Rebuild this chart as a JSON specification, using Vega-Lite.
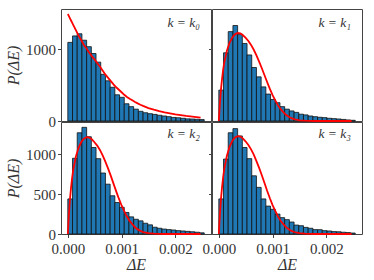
{
  "$schema": "https://vega.github.io/schema/vega-lite/v6.json",
  "background": "white",
  "padding": {"left": 5, "top": 8, "right": 9, "bottom": 5},
  "bounds": "flush",
  "spacing": 1,
  "columns": 2,
  "datasets": {
    "bars": [
      {"b0": 0, "b1": 0.0000875, "h0": 1095, "h1": 430, "h2": 440, "h3": 440},
      {"b0": 0.0000875, "b1": 0.000175, "h0": 1185, "h1": 950, "h2": 950, "h3": 940},
      {"b0": 0.000175, "b1": 0.0002625, "h0": 1215, "h1": 1245, "h2": 1270, "h3": 1270},
      {"b0": 0.0002625, "b1": 0.00035, "h0": 1125, "h1": 1330, "h2": 1338, "h3": 1322},
      {"b0": 0.00035, "b1": 0.0004375, "h0": 1035, "h1": 1210, "h2": 1220, "h3": 1230},
      {"b0": 0.0004375, "b1": 0.000525, "h0": 940, "h1": 1080, "h2": 1085, "h3": 1085},
      {"b0": 0.000525, "b1": 0.0006125, "h0": 820, "h1": 920, "h2": 945, "h3": 945},
      {"b0": 0.0006125, "b1": 0.0007, "h0": 650, "h1": 745, "h2": 765, "h3": 730},
      {"b0": 0.0007, "b1": 0.0007875, "h0": 560, "h1": 615, "h2": 625, "h3": 585},
      {"b0": 0.0007875, "b1": 0.000875, "h0": 470, "h1": 475, "h2": 480, "h3": 440},
      {"b0": 0.000875, "b1": 0.0009625, "h0": 365, "h1": 375, "h2": 395, "h3": 350},
      {"b0": 0.0009625, "b1": 0.00105, "h0": 330, "h1": 300, "h2": 335, "h3": 310},
      {"b0": 0.00105, "b1": 0.0011375, "h0": 240, "h1": 255, "h2": 270, "h3": 250},
      {"b0": 0.0011375, "b1": 0.001225, "h0": 200, "h1": 200, "h2": 215, "h3": 205},
      {"b0": 0.001225, "b1": 0.0013125, "h0": 165, "h1": 165, "h2": 185, "h3": 180},
      {"b0": 0.0013125, "b1": 0.0014, "h0": 135, "h1": 140, "h2": 165, "h3": 150},
      {"b0": 0.0014, "b1": 0.0014875, "h0": 115, "h1": 120, "h2": 135, "h3": 112},
      {"b0": 0.0014875, "b1": 0.001575, "h0": 102, "h1": 95, "h2": 115, "h3": 104},
      {"b0": 0.001575, "b1": 0.0016625, "h0": 92, "h1": 85, "h2": 85, "h3": 83},
      {"b0": 0.0016625, "b1": 0.00175, "h0": 80, "h1": 70, "h2": 72, "h3": 72},
      {"b0": 0.00175, "b1": 0.0018375, "h0": 70, "h1": 60, "h2": 62, "h3": 55},
      {"b0": 0.0018375, "b1": 0.001925, "h0": 60, "h1": 52, "h2": 55, "h3": 54},
      {"b0": 0.001925, "b1": 0.0020125, "h0": 50, "h1": 47, "h2": 50, "h3": 42},
      {"b0": 0.0020125, "b1": 0.0021, "h0": 45, "h1": 38, "h2": 42, "h3": 38},
      {"b0": 0.0021, "b1": 0.0021875, "h0": 38, "h1": 33, "h2": 38, "h3": 30},
      {"b0": 0.0021875, "b1": 0.002275, "h0": 30, "h1": 28, "h2": 33, "h3": 28},
      {"b0": 0.002275, "b1": 0.0023625, "h0": 28, "h1": 22, "h2": 28, "h3": 22},
      {"b0": 0.0023625, "b1": 0.00245, "h0": 24, "h1": 15, "h2": 22, "h3": 18},
      {"b0": 0.00245, "b1": 0.0025375, "h0": 20, "h1": 10, "h2": 15, "h3": 12}
    ],
    "curves": [
      {"x": 0, "c0": 1490, "c1": 0, "c2": 0, "c3": 0},
      {"x": 0.00002, "c0": 1460, "c1": 245, "c2": 243, "c3": 246},
      {"x": 0.00004, "c0": 1430, "c1": 441, "c2": 437, "c3": 442},
      {"x": 0.00006, "c0": 1400, "c1": 588, "c2": 583, "c3": 589},
      {"x": 0.00008, "c0": 1370, "c1": 711, "c2": 705, "c3": 712},
      {"x": 0.0001, "c0": 1340, "c1": 809, "c2": 802, "c3": 810},
      {"x": 0.00015, "c0": 1265, "c1": 980, "c2": 972, "c3": 982},
      {"x": 0.0002, "c0": 1190, "c1": 1090, "c2": 1081, "c3": 1093},
      {"x": 0.00025, "c0": 1125, "c1": 1164, "c2": 1154, "c3": 1167},
      {"x": 0.0003, "c0": 1060, "c1": 1207, "c2": 1197, "c3": 1210},
      {"x": 0.00035, "c0": 1005, "c1": 1225, "c2": 1215, "c3": 1228},
      {"x": 0.0004, "c0": 950, "c1": 1219, "c2": 1209, "c3": 1222},
      {"x": 0.00045, "c0": 900, "c1": 1194, "c2": 1185, "c3": 1197},
      {"x": 0.0005, "c0": 855, "c1": 1158, "c2": 1148, "c3": 1160},
      {"x": 0.00055, "c0": 805, "c1": 1115, "c2": 1106, "c3": 1117},
      {"x": 0.0006, "c0": 755, "c1": 1060, "c2": 1051, "c3": 1062},
      {"x": 0.00065, "c0": 700, "c1": 992, "c2": 984, "c3": 995},
      {"x": 0.0007, "c0": 645, "c1": 913, "c2": 905, "c3": 915},
      {"x": 0.00075, "c0": 600, "c1": 827, "c2": 820, "c3": 829},
      {"x": 0.0008, "c0": 555, "c1": 735, "c2": 729, "c3": 737},
      {"x": 0.00085, "c0": 510, "c1": 637, "c2": 632, "c3": 639},
      {"x": 0.0009, "c0": 470, "c1": 539, "c2": 535, "c3": 540},
      {"x": 0.00095, "c0": 435, "c1": 447, "c2": 443, "c3": 448},
      {"x": 0.001, "c0": 400, "c1": 361, "c2": 358, "c3": 362},
      {"x": 0.00105, "c0": 365, "c1": 288, "c2": 286, "c3": 289},
      {"x": 0.0011, "c0": 335, "c1": 221, "c2": 219, "c3": 221},
      {"x": 0.00115, "c0": 310, "c1": 165, "c2": 164, "c3": 166},
      {"x": 0.0012, "c0": 288, "c1": 123, "c2": 122, "c3": 123},
      {"x": 0.00125, "c0": 265, "c1": 86, "c2": 85, "c3": 86},
      {"x": 0.0013, "c0": 245, "c1": 59, "c2": 58, "c3": 59},
      {"x": 0.00135, "c0": 227, "c1": 39, "c2": 39, "c3": 39},
      {"x": 0.0014, "c0": 210, "c1": 25, "c2": 24, "c3": 25},
      {"x": 0.0015, "c0": 180, "c1": 10, "c2": 10, "c3": 10},
      {"x": 0.0016, "c0": 158, "c1": 4, "c2": 4, "c3": 4},
      {"x": 0.0017, "c0": 138, "c1": 1, "c2": 1, "c3": 1},
      {"x": 0.0018, "c0": 120, "c1": 0, "c2": 0, "c3": 0},
      {"x": 0.002, "c0": 92, "c1": 0, "c2": 0, "c3": 0},
      {"x": 0.0022, "c0": 70, "c1": 0, "c2": 0, "c3": 0},
      {"x": 0.00247, "c0": 48, "c1": 0, "c2": 0, "c3": 0}
    ]
  },
  "resolve": {"scale": {"x": "independent", "y": "independent"}},
  "config": {
    "view": {"stroke": "#444", "strokeWidth": 1},
    "font": "Liberation Serif",
    "axis": {
      "domain": false, "grid": false, "tickColor": "#444", "tickSize": 3.5, "tickWidth": 1,
      "labelFont": "Liberation Serif", "labelFontSize": 15, "labelColor": "#333", "labelPadding": 2,
      "titleFont": "Liberation Serif", "titleFontSize": 16, "titleFontStyle": "italic",
      "titleFontWeight": "normal", "titleColor": "#333", "titlePadding": 4
    },
    "axisX": {"labelPadding": 3.5, "titlePadding": 0}
  },
  "concat": [
    {
      "width": 150, "height": 112,
      "layer": [
        {"data": {"name": "bars"}, "mark": {"type": "bar", "fill": "#1f77b4", "stroke": "#111", "strokeWidth": 0.8},
         "encoding": {
           "x": {"field": "b0", "type": "quantitative", "scale": {"domain": [-0.000127, 0.002664], "nice": false, "zero": false}, "axis": null},
           "x2": {"field": "b1"},
           "y": {"field": "h0", "type": "quantitative", "stack": null, "scale": {"domain": [0, 1560], "nice": false}, "axis": {"values": [0, 1000], "format": "d", "title": "P(ΔE)"}},
           "y2": {"datum": 0}}},
        {"data": {"name": "curves"}, "mark": {"type": "line", "color": "#ff0000", "strokeWidth": 1.8},
         "encoding": {"x": {"field": "x", "type": "quantitative"}, "y": {"field": "c0", "type": "quantitative"}}},
        {"data": {"values": [{"label": "k = k₀", "lx": 0.00246, "ly": 1370}]}, "mark": {"type": "text", "align": "right", "baseline": "middle", "fontStyle": "italic", "fontSize": 13.5, "color": "#333", "font": "Liberation Serif"},
         "encoding": {"x": {"field": "lx", "type": "quantitative"}, "y": {"field": "ly", "type": "quantitative"}, "text": {"field": "label"}}}
      ]
    },
    {
      "width": 150, "height": 112,
      "layer": [
        {"data": {"name": "bars"}, "mark": {"type": "bar", "fill": "#1f77b4", "stroke": "#111", "strokeWidth": 0.8},
         "encoding": {
           "x": {"field": "b0", "type": "quantitative", "scale": {"domain": [-0.000127, 0.002664], "nice": false, "zero": false}, "axis": null},
           "x2": {"field": "b1"},
           "y": {"field": "h1", "type": "quantitative", "stack": null, "scale": {"domain": [0, 1560], "nice": false}, "axis": {"values": [0, 1000], "labels": false, "title": null}},
           "y2": {"datum": 0}}},
        {"data": {"name": "curves"}, "mark": {"type": "line", "color": "#ff0000", "strokeWidth": 1.8},
         "encoding": {"x": {"field": "x", "type": "quantitative"}, "y": {"field": "c1", "type": "quantitative"}}},
        {"data": {"values": [{"label": "k = k₁", "lx": 0.00246, "ly": 1370}]}, "mark": {"type": "text", "align": "right", "baseline": "middle", "fontStyle": "italic", "fontSize": 13.5, "color": "#333", "font": "Liberation Serif"},
         "encoding": {"x": {"field": "lx", "type": "quantitative"}, "y": {"field": "ly", "type": "quantitative"}, "text": {"field": "label"}}}
      ]
    },
    {
      "width": 150, "height": 112,
      "layer": [
        {"data": {"name": "bars"}, "mark": {"type": "bar", "fill": "#1f77b4", "stroke": "#111", "strokeWidth": 0.8},
         "encoding": {
           "x": {"field": "b0", "type": "quantitative", "scale": {"domain": [-0.000127, 0.002664], "nice": false, "zero": false}, "axis": {"values": [0, 0.001, 0.002], "format": ".3f", "title": "ΔE"}},
           "x2": {"field": "b1"},
           "y": {"field": "h2", "type": "quantitative", "stack": null, "scale": {"domain": [0, 1405], "nice": false}, "axis": {"values": [0, 500, 1000], "format": "d", "title": "P(ΔE)"}},
           "y2": {"datum": 0}}},
        {"data": {"name": "curves"}, "mark": {"type": "line", "color": "#ff0000", "strokeWidth": 1.8},
         "encoding": {"x": {"field": "x", "type": "quantitative"}, "y": {"field": "c2", "type": "quantitative"}}},
        {"data": {"values": [{"label": "k = k₂", "lx": 0.00246, "ly": 1250}]}, "mark": {"type": "text", "align": "right", "baseline": "middle", "fontStyle": "italic", "fontSize": 13.5, "color": "#333", "font": "Liberation Serif"},
         "encoding": {"x": {"field": "lx", "type": "quantitative"}, "y": {"field": "ly", "type": "quantitative"}, "text": {"field": "label"}}}
      ]
    },
    {
      "width": 150, "height": 112,
      "layer": [
        {"data": {"name": "bars"}, "mark": {"type": "bar", "fill": "#1f77b4", "stroke": "#111", "strokeWidth": 0.8},
         "encoding": {
           "x": {"field": "b0", "type": "quantitative", "scale": {"domain": [-0.000127, 0.002664], "nice": false, "zero": false}, "axis": {"values": [0, 0.001, 0.002], "format": ".3f", "title": "ΔE"}},
           "x2": {"field": "b1"},
           "y": {"field": "h3", "type": "quantitative", "stack": null, "scale": {"domain": [0, 1405], "nice": false}, "axis": {"values": [0, 500, 1000], "labels": false, "title": null}},
           "y2": {"datum": 0}}},
        {"data": {"name": "curves"}, "mark": {"type": "line", "color": "#ff0000", "strokeWidth": 1.8},
         "encoding": {"x": {"field": "x", "type": "quantitative"}, "y": {"field": "c3", "type": "quantitative"}}},
        {"data": {"values": [{"label": "k = k₃", "lx": 0.00246, "ly": 1250}]}, "mark": {"type": "text", "align": "right", "baseline": "middle", "fontStyle": "italic", "fontSize": 13.5, "color": "#333", "font": "Liberation Serif"},
         "encoding": {"x": {"field": "lx", "type": "quantitative"}, "y": {"field": "ly", "type": "quantitative"}, "text": {"field": "label"}}}
      ]
    }
  ]
}
